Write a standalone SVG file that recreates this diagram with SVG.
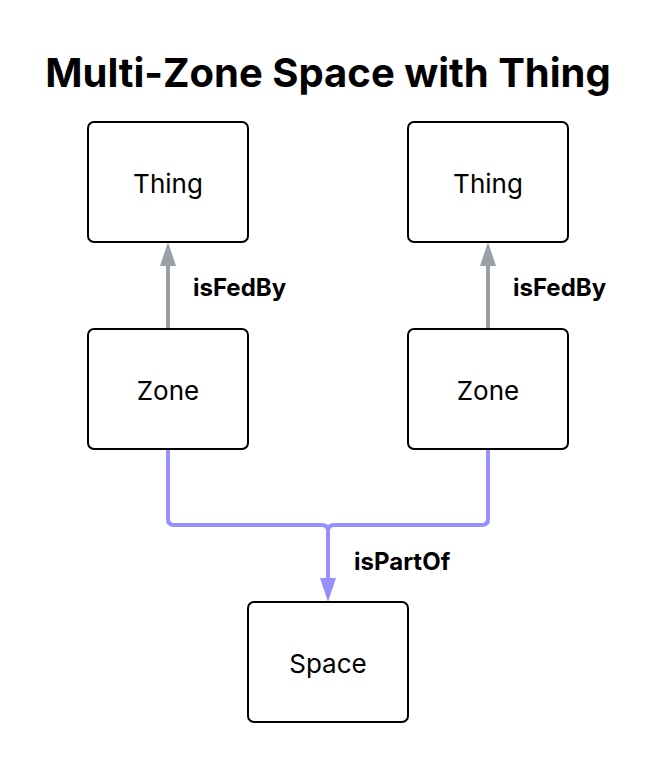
<svg xmlns="http://www.w3.org/2000/svg" width="656" height="762" viewBox="0 0 656 762">
<defs>
<style>
.node rect{fill:#fff;stroke:#000;stroke-width:2}
.node text{font-family:Inter,"Noto Sans",sans-serif;font-size:26px;fill:#000;text-anchor:middle}
.lbl{font-family:Inter,"Noto Sans",sans-serif;font-size:24px;font-weight:700;fill:#000}
.title{font-family:Inter,"Noto Sans",sans-serif;font-size:40px;font-weight:700;fill:#000;text-anchor:middle}
.fed{fill:none;stroke:#9aa0a8;stroke-width:4}
.part{fill:none;stroke:#9690ff;stroke-width:4}
</style>
</defs>
<rect width="656" height="762" fill="#fff"/>
<text class="title" x="328" y="87">Multi-Zone Space with Thing</text>
<g id="connectors">
<path class="fed" d="M168,329 V266"/>
<path d="M160,266 L168,242 L176,266 z" fill="#9aa0a8"/>
<path class="fed" d="M488,329 V266"/>
<path d="M480,266 L488,242 L496,266 z" fill="#9aa0a8"/>
<path class="part" d="M168,449 V519 Q168,525 174,525 H322 Q328,525 328,531 V578"/>
<path class="part" d="M488,449 V519 Q488,525 482,525 H334 Q328,525 328,531"/>
<path d="M320,578 L328,602 L336,578 z" fill="#9690ff"/>
<text class="lbl" x="193" y="296">isFedBy</text>
<text class="lbl" x="513" y="296">isFedBy</text>
<text class="lbl" x="354" y="570">isPartOf</text>
</g>
<g id="thing1" class="node"><rect x="88" y="122" width="160" height="120" rx="6"/><text x="168" y="193">Thing</text></g>
<g id="thing2" class="node"><rect x="408" y="122" width="160" height="120" rx="6"/><text x="488" y="193">Thing</text></g>
<g id="zone1" class="node"><rect x="88" y="329" width="160" height="120" rx="6"/><text x="168" y="400">Zone</text></g>
<g id="zone2" class="node"><rect x="408" y="329" width="160" height="120" rx="6"/><text x="488" y="400">Zone</text></g>
<g id="space" class="node"><rect x="248" y="602" width="160" height="120" rx="6"/><text x="328" y="673">Space</text></g>
</svg>
